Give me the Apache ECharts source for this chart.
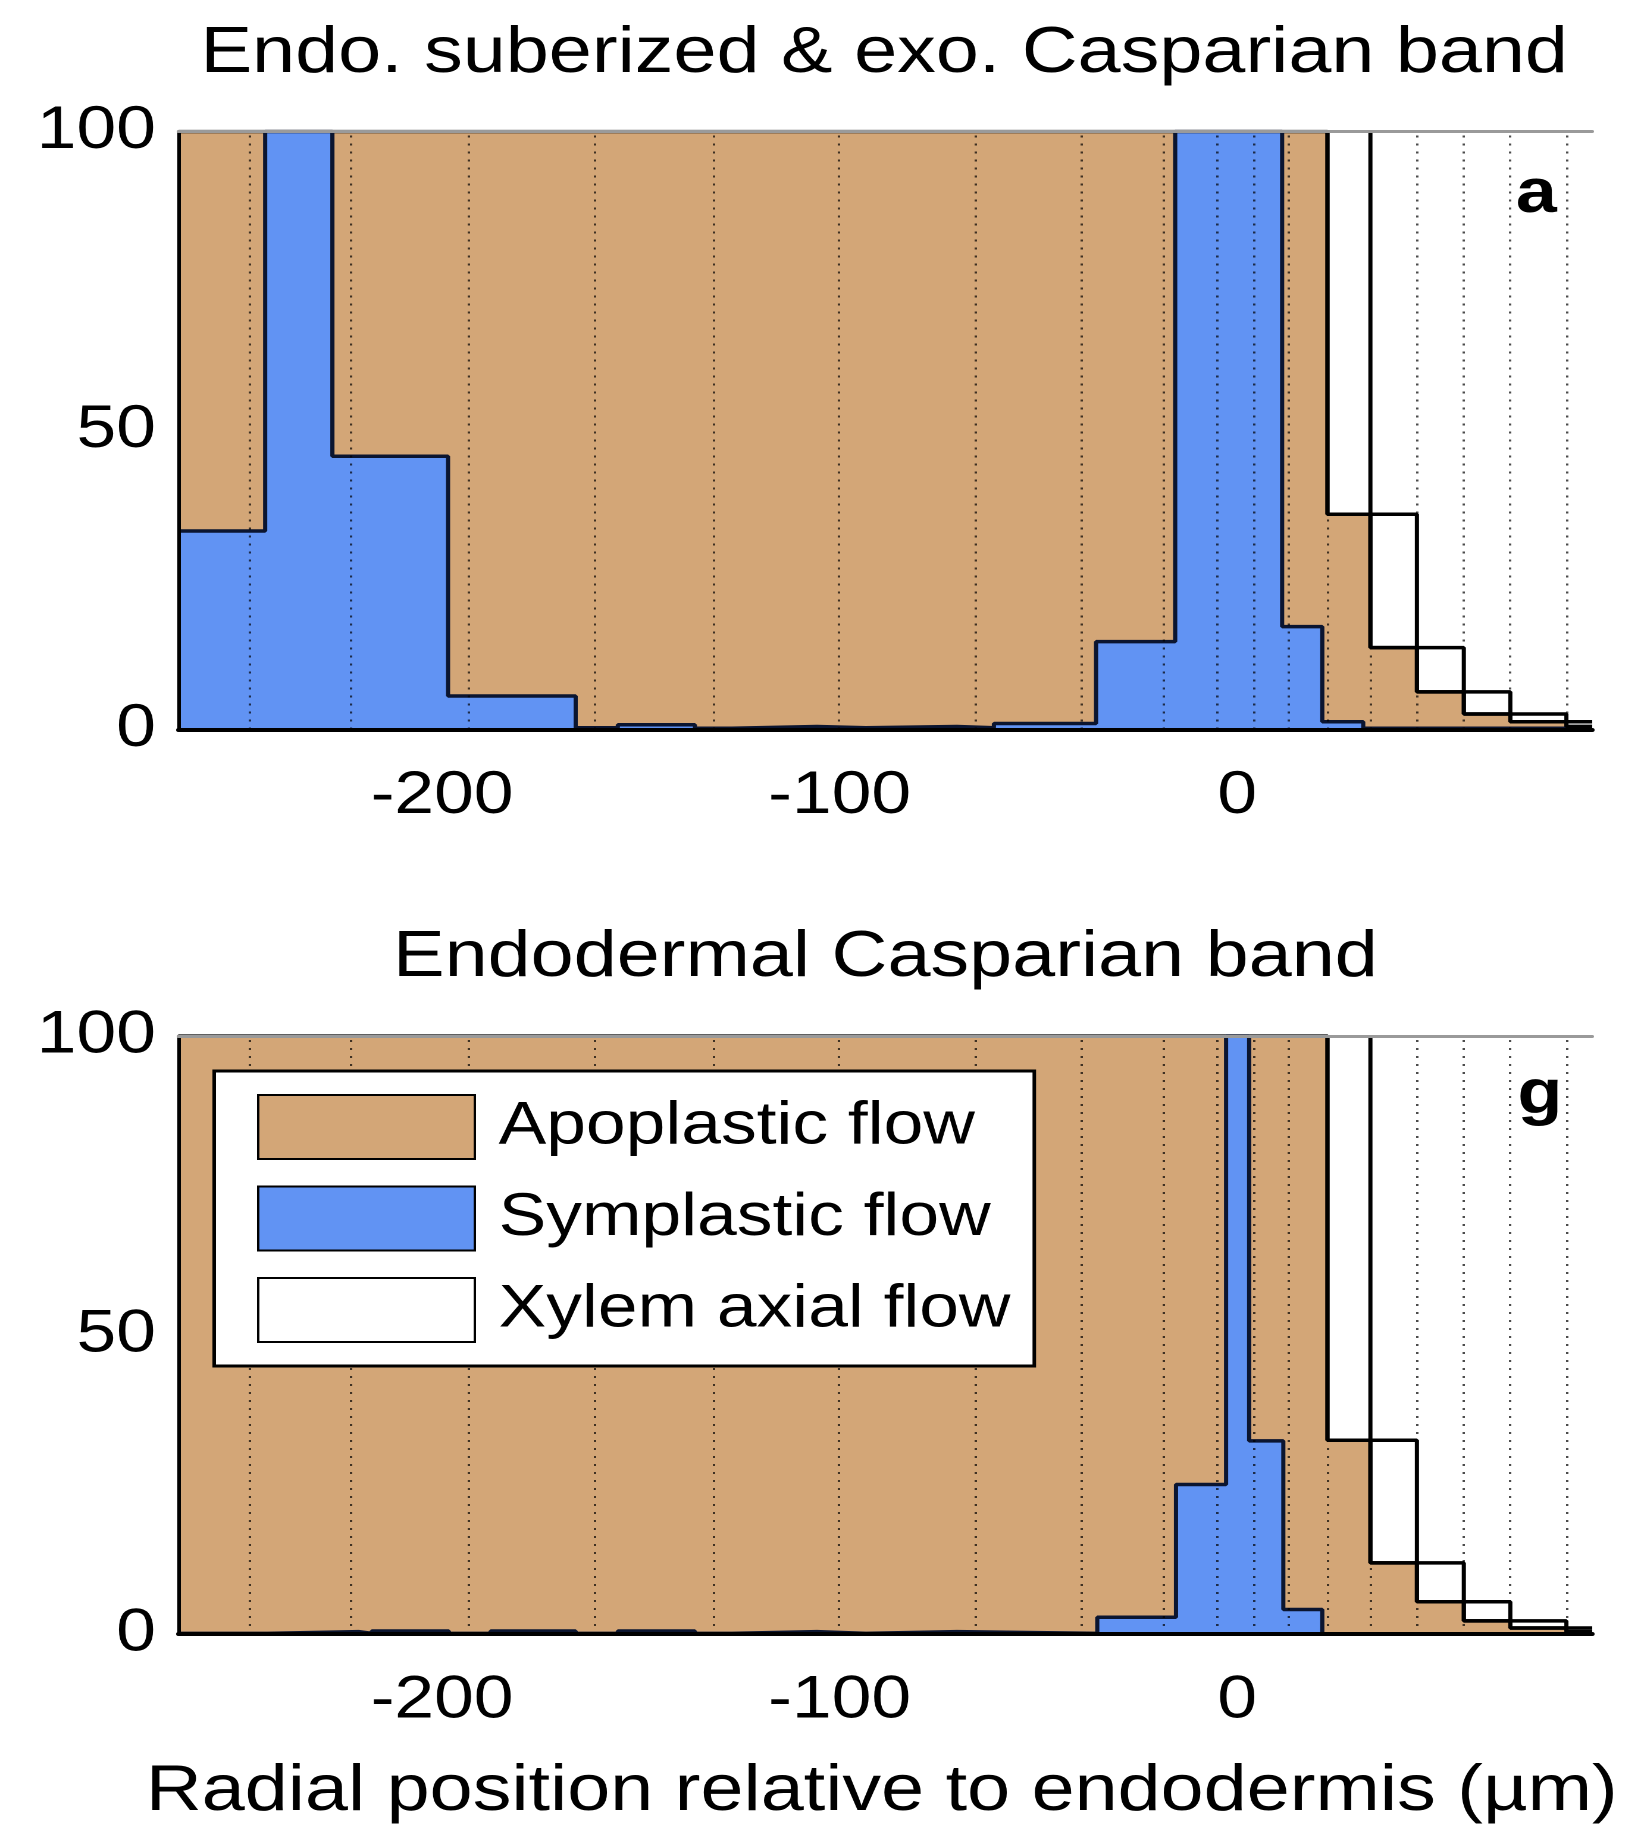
<!DOCTYPE html>
<html>
<head>
<meta charset="utf-8">
<title>Radial flow partition</title>
<script src="https://cdn.jsdelivr.net/npm/echarts@6/dist/echarts.min.js"></script>
<style>
  html, body { margin: 0; padding: 0; background: #fff; overflow: hidden; }
  /* the original figure is stretched horizontally, so draw narrow and stretch */
  #main { width: 1374px; height: 1835px; transform: scaleX(1.19); transform-origin: 0 0; }
</style>
</head>
<body>
<div id="main"></div>
<script>
// radial position relative to endodermis (µm)
const xRange = [-266.3, 89.3]
const xTickLabels = [-200, -100, 0]
const cellWalls = [-248.3, -223.0, -193.2, -161.6, -131.8, -100.2, -65.7, -39.2, -18.6, -5.0,
  4.3, 13.0, 22.7, 33.5, 45.2, 57.0, 68.7, 82.8]

// xylem bins (shared by both panels)
const xylEdges = [-266.3, 22.7, 33.5, 45.2, 57.0, 68.7, 82.8, 89.3]
const vesselEdges1 = [22.7, 45.2, 68.7, 89.3]
const vesselEdges2 = [33.5, 57.0, 82.8, 89.3]

// panel a : Endo. suberized & exo. Casparian band
const symEdgesA = [-266.3, -244.5, -227.6, -198.5, -166.4, -155.8, -136.4, -127.1, -105.7, -93.4,
  -70.5, -61.2, -35.5, -15.6, 11.3, 21.4, 31.7, 89.3]
const symA = [33.2, 100, 45.7, 5.6, 0.3, 0.8, 0.2, 0.5, 0.3, 0.5, 0.3, 1.0, 14.7, 100, 17.2, 1.3, 0.2]
const xylA = [0, 64, 86.3, 93.7, 97.4, 98.7, 99.5]
const vessel1A = [36, 6.3, 1.3]
const vessel2A = [13.7, 2.6, 0.5]

// panel g : Endodermal Casparian band
const symEdgesG = [-266.3, -243.9, -221.0, -217.7, -198.3, -187.8, -166.4, -155.8, -136.4, -127.1,
  -105.7, -93.4, -70.5, -35.2, -15.4, -2.8, 3.0, 11.6, 21.4, 89.3]
const symG = [0.1, 0.4, 0.1, 0.5, 0.1, 0.5, 0.1, 0.5, 0.1, 0.4, 0.1, 0.4, 0.1, 2.8, 25, 100, 32.3, 4.1, 0]
const xylG = [0, 67.6, 88.1, 94.6, 97.8, 99, 99.6]
const vessel1G = [32.4, 5.4, 1.0]
const vessel2G = [11.9, 2.2, 0.4]

const BROWN = '#D3A677'
const BLUE = '#6193F3'
const FONT = '"Liberation Sans", Arial, sans-serif'

// left edge + value of each bin, and the last right edge
function steps(edges, values) {
  const pts = values.map((v, i) => [edges[i], v])
  pts.push([edges[edges.length - 1], values[values.length - 1]])
  return pts
}

function panelSeries(gi, symEdges, sym, xyl, v1, v2) {
  const axes = { xAxisIndex: gi, yAxisIndex: gi }
  const line = (extra) => Object.assign({
    type: 'line', step: 'end', symbol: 'none', showSymbol: false, silent: true, animation: false
  }, axes, extra)
  return [
    line({
      name: 'Xylem axial flow', z: 1, itemStyle: { color: '#fff' },
      data: steps(xylEdges, xyl.map(v => (100 - v) + v)),
      lineStyle: { width: 0 }, areaStyle: { color: '#fff', opacity: 1 }
    }),
    line({
      name: 'Apoplastic flow', z: 2, itemStyle: { color: BROWN },
      data: steps(xylEdges, xyl.map(v => 100 - v)),
      lineStyle: { color: '#000', width: 3.5 }, areaStyle: { color: BROWN, opacity: 1 }
    }),
    line({
      name: 'Symplastic flow', z: 3, itemStyle: { color: BLUE },
      data: steps(symEdges, sym),
      lineStyle: { color: '#0b1530', width: 3.5 }, areaStyle: { color: BLUE, opacity: 1 },
      markLine: {
        z: 5, silent: true, symbol: 'none', animation: false, label: { show: false },
        lineStyle: { color: 'rgba(0,0,0,0.7)', width: 2, type: [2, 6] },
        data: cellWalls.map(x => ({ xAxis: x }))
      }
    }),
    // outlines of the two interleaved xylem vessel files
    line({
      name: 'vessel1', z: 4, data: [[vesselEdges1[0], 100]].concat(steps(vesselEdges1, v1)),
      lineStyle: { color: '#000', width: 3.5 }
    }),
    line({
      name: 'vessel2', z: 4, data: [[vesselEdges2[0], 100]].concat(steps(vesselEdges2, v2)),
      lineStyle: { color: '#000', width: 3.5 }
    })
  ]
}

const labelStyle = { color: '#000', fontSize: 60, fontFamily: FONT }

function bottomAxis(gi) {
  return {
    type: 'value', gridIndex: gi, position: 'bottom', min: xRange[0], max: xRange[1], z: 10,
    axisLine: { show: true, onZero: false, lineStyle: { color: '#000', width: 4 } },
    axisTick: { show: false }, splitLine: { show: false },
    axisLabel: Object.assign({ customValues: xTickLabels, margin: 37 }, labelStyle)
  }
}
function topAxis(gi) {
  return {
    type: 'value', gridIndex: gi, position: 'top', min: xRange[0], max: xRange[1], z: 10,
    axisLine: { show: true, onZero: false, lineStyle: { color: '#9a9a9a', width: 3 } },
    axisTick: { show: false }, splitLine: { show: false }, axisLabel: { show: false }
  }
}
function leftAxis(gi) {
  return {
    type: 'value', gridIndex: gi, min: 0, max: 100, interval: 50, z: 10,
    axisLine: { show: true, onZero: false, lineStyle: { color: '#000', width: 3 } },
    axisTick: { show: false }, splitLine: { show: false },
    axisLabel: Object.assign({ margin: 19 }, labelStyle)
  }
}

function text(x, y, str, size, weight) {
  return {
    type: 'text', x: x, y: y, z: 20, silent: true,
    style: {
      text: str, fill: '#000', fontSize: size, fontFamily: FONT, fontWeight: weight || 'normal',
      align: 'center', verticalAlign: 'middle'
    }
  }
}

const chart = echarts.init(document.getElementById('main'), null, { renderer: 'canvas', devicePixelRatio: 2 })
chart.setOption({
  animation: false,
  backgroundColor: '#fff',
  grid: [
    { left: 150, right: 36, top: 131.5, height: 598 },
    { left: 150, right: 36, top: 1036, height: 598 }
  ],
  xAxis: [bottomAxis(0), bottomAxis(1), topAxis(0), topAxis(1)],
  yAxis: [leftAxis(0), leftAxis(1)],
  legend: {
    orient: 'vertical', left: 180, top: 1071, selectedMode: false, z: 20,
    itemWidth: 182, itemHeight: 64, itemGap: 25.5,
    padding: [23, 20, 23, 36],
    backgroundColor: '#fff', borderColor: '#000', borderWidth: 3,
    textStyle: { color: '#000', fontSize: 60, fontFamily: FONT, padding: [0, 0, 0, 15] },
    data: [
      { name: 'Apoplastic flow', icon: 'rect', itemStyle: { color: BROWN, borderColor: '#000', borderWidth: 2 } },
      { name: 'Symplastic flow', icon: 'rect', itemStyle: { color: BLUE, borderColor: '#000', borderWidth: 2 } },
      { name: 'Xylem axial flow', icon: 'rect', itemStyle: { color: '#fff', borderColor: '#000', borderWidth: 2 } }
    ]
  },
  graphic: [
    text(743, 54, 'Endo. suberized & exo. Casparian band', 65),
    text(744, 958, 'Endodermal Casparian band', 65),
    text(741, 1792, 'Radial position relative to endodermis (µm)', 65),
    text(1291, 195, 'a', 62, 'bold'),
    text(1294, 1096, 'g', 62, 'bold')
  ],
  series: panelSeries(0, symEdgesA, symA, xylA, vessel1A, vessel2A)
    .concat(panelSeries(1, symEdgesG, symG, xylG, vessel1G, vessel2G))
})
</script>
</body>
</html>
